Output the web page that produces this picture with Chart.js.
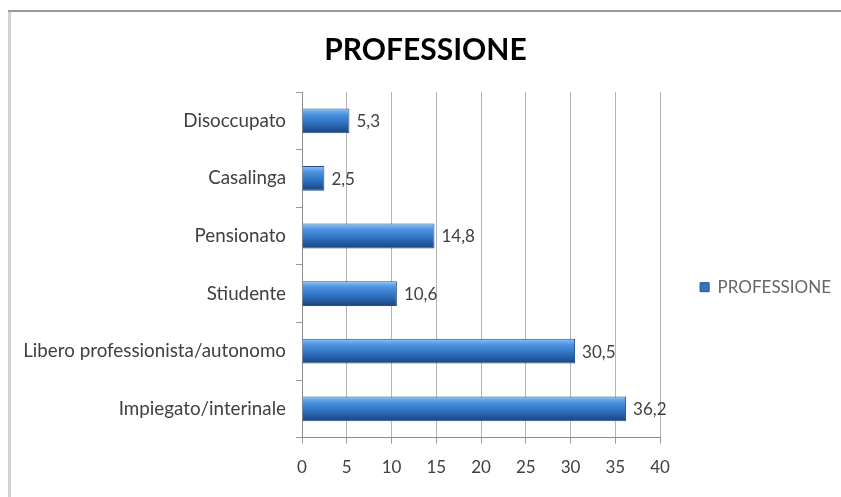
<!DOCTYPE html>
<html>
<head>
<meta charset="utf-8">
<script src="https://cdn.jsdelivr.net/npm/chart.js@4/dist/chart.umd.min.js"></script>
<style>
  html, body { margin: 0; padding: 0; background: #fff; }
  .chart-holder { position: relative; width: 841px; height: 497px; }
</style>
</head>
<body>
<div class="chart-holder"><canvas id="chart" width="841" height="497"></canvas></div>
<script>
const categories = ['Disoccupato', 'Casalinga', 'Pensionato', 'Stiudente', 'Libero professionista/autonomo', 'Impiegato/interinale'];
const values = [5.3, 2.5, 14.8, 10.6, 30.5, 36.2];
const seriesName = 'PROFESSIONE';
const xMin = 0;
const xMax = 40;
const xStep = 5;

const FONT = 'Lato, "Open Sans", sans-serif';
const TEXT = '#404040';

// gray frame on top and left, like the pasted Excel picture
const framePlugin = {
  id: 'frame',
  beforeDraw: (chart) => {
    const { ctx } = chart;
    ctx.save();
    ctx.fillStyle = '#d2d2d2';
    ctx.fillRect(8, 10, 3, chart.height - 10);
    ctx.fillStyle = '#9a9a9a';
    ctx.fillRect(8, 10, chart.width - 8, 2);
    ctx.restore();
  },
};

const valueLabels = {
  id: 'valueLabels',
  afterDatasetsDraw: (chart) => {
    const { ctx } = chart;
    const meta = chart.getDatasetMeta(0);
    ctx.save();
    ctx.font = `17px ${FONT}`;
    ctx.fillStyle = TEXT;
    ctx.textBaseline = 'middle';
    ctx.textAlign = 'left';
    meta.data.forEach((bar, i) => {
      const txt = String(values[i]).replace('.', ',');
      ctx.fillText(txt, bar.x + 7, bar.y + 1);
    });
    ctx.restore();
  },
};

const barFill = (c) => {
  const chart = c.chart;
  if (!chart.chartArea || c.dataIndex === undefined) return '#3a78c4';
  const y = chart.scales.y.getPixelForValue(c.dataIndex);
  const h = 12;
  const g = chart.ctx.createLinearGradient(0, y - h, 0, y + h);
  g.addColorStop(0, '#8cc0f4');
  g.addColorStop(0.22, '#4f94e2');
  g.addColorStop(0.6, '#2f6fc0');
  g.addColorStop(1, '#1b4580');
  return g;
};

const initChart = () => new Chart(document.getElementById('chart'), {
  type: 'bar',
  data: {
    labels: categories,
    datasets: [
      {
        label: seriesName,
        data: values,
        backgroundColor: barFill,
        borderColor: '#23508c',
        borderWidth: 1,
        barPercentage: 0.43,
        categoryPercentage: 1,
      },
    ],
  },
  options: {
    indexAxis: 'y',
    responsive: false,
    animation: false,
    layout: { padding: { left: 10, top: 32, right: 0, bottom: 5 } },
    plugins: {
      title: {
        display: true,
        text: seriesName,
        color: '#000',
        font: { family: FONT, size: 30, weight: 'bold' },
        padding: { top: 0, bottom: 24 },
      },
      legend: {
        display: true,
        position: 'right',
        title: { display: true, text: ' ', padding: { top: 0, bottom: 36 } },
        labels: {
          color: TEXT,
          font: { family: FONT, size: 17 },
          boxWidth: 9,
          boxHeight: 9,
          padding: 40,
          generateLabels: (chart) => [{
            text: seriesName,
            fillStyle: '#3572c0',
            strokeStyle: '#23508c',
            lineWidth: 1,
            datasetIndex: 0,
          }],
        },
      },
      tooltip: { enabled: false },
    },
    scales: {
      x: {
        min: xMin,
        max: xMax,
        ticks: {
          stepSize: xStep,
          color: TEXT,
          font: { family: FONT, size: 17 },
          padding: 14,
        },
        grid: { color: '#b4b4b4', tickColor: '#9a9a9a', tickLength: 6 },
        border: { color: '#8c8c8c' },
      },
      y: {
        ticks: {
          color: TEXT,
          font: { family: FONT, size: 18.8 },
          padding: 10,
        },
        grid: { drawOnChartArea: false, offset: true, tickColor: '#9a9a9a', tickLength: 6 },
        border: { color: '#8c8c8c' },
        afterFit: (scale) => { scale.width = 292; },
      },
    },
  },
  plugins: [framePlugin, valueLabels],
});

initChart();
</script>
</body>
</html>
